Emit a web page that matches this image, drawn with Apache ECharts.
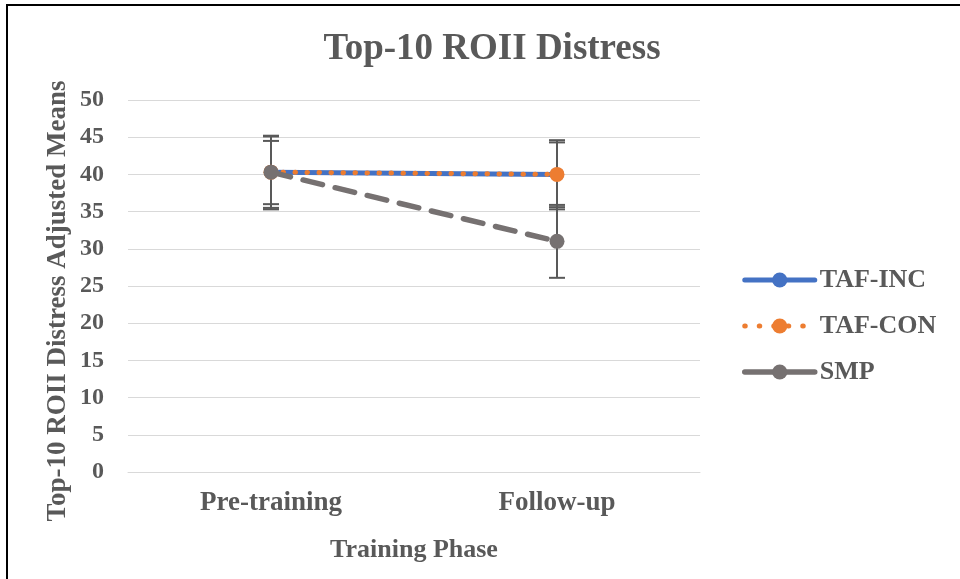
<!DOCTYPE html>
<html>
<head>
<meta charset="utf-8">
<script src="https://cdn.jsdelivr.net/npm/echarts@6/dist/echarts.min.js"></script>
<style>
  html, body { margin: 0; padding: 0; background: #fff; overflow: hidden; }
  #frame { position: absolute; left: 6px; top: 4px; width: 1000px; height: 700px;
           border-left: 2px solid #000; border-top: 2px solid #000; }
  #chart { position: absolute; left: 0; top: 0; width: 960px; height: 579px; }
</style>
</head>
<body>
<div id="frame"></div>
<div id="chart"></div>
<script>
// Top-10 ROII Distress, adjusted means with error bars
const phases = ['Pre-training', 'Follow-up'];
const seriesNames = ['TAF-INC', 'TAF-CON', 'SMP'];

const tafInc = [40.3, 40.0];
const tafCon = [40.3, 40.0];
const smp = [40.3, 31.0];

// [low, high] error bar ends per phase
const tafIncErr = [[35.5, 45.1], [35.3, 44.6]];
const tafConErr = [[36.0, 44.5], [35.6, 44.3]];
const smpErr = [[35.3, 45.2], [26.1, 35.9]];

const yTicks = [0, 5, 10, 15, 20, 25, 30, 35, 40, 45, 50];

const font = '"Liberation Serif", "Times New Roman", serif';
const textGrey = '#595959';

const chart = echarts.init(document.getElementById('chart'));

function errorSeries(errs, z) {
    return {
        type: 'custom',
        silent: true,
        z: z,
        data: errs.map((e, i) => [i, e[0], e[1]]),
        renderItem: function (params, api) {
            const x = api.coord([api.value(0), api.value(1)])[0];
            const yLow = api.coord([api.value(0), api.value(1)])[1];
            const yHigh = api.coord([api.value(0), api.value(2)])[1];
            const half = 8;
            const style = { stroke: '#595959', lineWidth: 2 };
            return {
                type: 'group',
                children: [
                    { type: 'line', shape: { x1: x, y1: yLow, x2: x, y2: yHigh }, style: style },
                    { type: 'line', shape: { x1: x - half, y1: yLow, x2: x + half, y2: yLow }, style: style },
                    { type: 'line', shape: { x1: x - half, y1: yHigh, x2: x + half, y2: yHigh }, style: style }
                ]
            };
        }
    };
}

const option = {
    animation: false,
    title: {
        text: 'Top-10 ROII Distress',
        left: 487,
        textAlign: 'center',
        top: 26,
        textStyle: { fontFamily: font, fontSize: 37, fontWeight: 'bold', color: textGrey }
    },
    graphic: [{
        type: 'text',
        x: 58,
        y: 301,
        rotation: Math.PI / 2,
        style: {
            text: 'Top-10 ROII Distress Adjusted Means',
            font: 'bold 27px ' + font,
            fill: textGrey,
            align: 'center',
            verticalAlign: 'middle'
        }
    }],
    grid: { left: 128, right: 260, top: 100, bottom: 107 },
    legend: {
        orient: 'vertical',
        left: 742,
        top: 267,
        padding: 0,
        itemWidth: 70,
        itemHeight: 19,
        itemGap: 20,
        data: [
            { name: 'TAF-INC', lineStyle: { width: 5, cap: 'round' } },
            { name: 'TAF-CON', lineStyle: { width: 5, type: [0.5, 14], cap: 'round' } },
            { name: 'SMP', lineStyle: { width: 5.5, type: 'solid', cap: 'round' } }
        ],
        textStyle: { fontFamily: font, fontSize: 26, fontWeight: 'bold', color: textGrey }
    },
    xAxis: {
        type: 'category',
        data: phases,
        boundaryGap: true,
        name: 'Training Phase',
        nameLocation: 'middle',
        nameGap: 65,
        nameTextStyle: { fontFamily: font, fontSize: 26, fontWeight: 'bold', color: textGrey },
        axisLine: { show: true, lineStyle: { color: '#D9D9D9', width: 1 } },
        axisTick: { show: false },
        axisLabel: { fontFamily: font, fontSize: 27, fontWeight: 'bold', color: textGrey, margin: 18 }
    },
    yAxis: {
        type: 'value',
        min: yTicks[0],
        max: yTicks[yTicks.length - 1],
        interval: 5,
        axisLine: { show: false },
        axisTick: { show: false },
        splitLine: { lineStyle: { color: '#D9D9D9', width: 1 } },
        axisLabel: { fontFamily: font, fontSize: 24, fontWeight: 'bold', color: textGrey, margin: 24 }
    },
    series: [
        errorSeries(tafIncErr, 1),
        errorSeries(tafConErr, 1),
        errorSeries(smpErr, 1),
        {
            name: 'TAF-INC',
            type: 'line',
            data: tafInc,
            z: 2,
            symbol: 'circle',
            symbolSize: 14,
            itemStyle: { color: '#4472C4' },
            lineStyle: { color: '#4472C4', width: 5, cap: 'round' }
        },
        {
            name: 'TAF-CON',
            type: 'line',
            data: tafCon,
            z: 3,
            symbol: 'circle',
            symbolSize: 15,
            itemStyle: { color: '#ED7D31' },
            lineStyle: { color: '#ED7D31', width: 5, type: [0.5, 11.5], cap: 'round' }
        },
        {
            name: 'SMP',
            type: 'line',
            data: smp,
            z: 4,
            symbol: 'circle',
            symbolSize: 15,
            itemStyle: { color: '#767171' },
            lineStyle: { color: '#767171', width: 5.5, type: [20, 13], cap: 'round' }
        }
    ]
};

chart.setOption(option);
</script>
</body>
</html>
